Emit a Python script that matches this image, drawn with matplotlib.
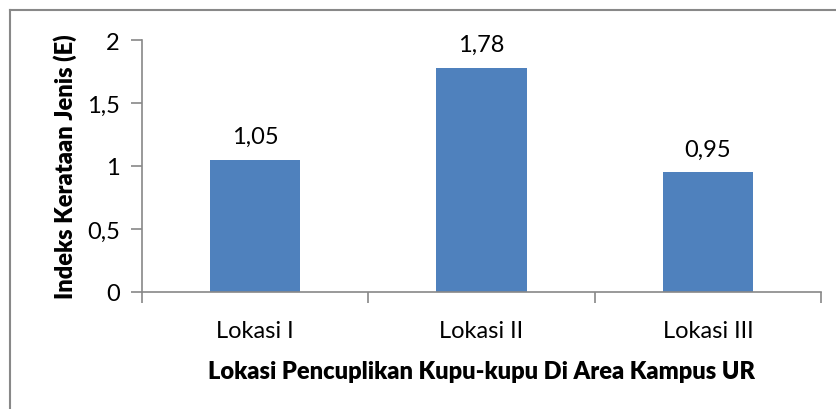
import numpy as np
import matplotlib.pyplot as plt
from matplotlib.lines import Line2D

locations = ["Lokasi I", "Lokasi II", "Lokasi III"]
evenness = [1.05, 1.78, 0.95]
y_ticks = [0, 0.5, 1, 1.5, 2]
y_tick_labels = ["0", "0,5", "1", "1,5", "2"]

W, H = 837, 410
plt.rcParams["font.family"] = ["Lato", "DejaVu Sans"]

fig = plt.figure(figsize=(W / 100, H / 100), dpi=100)
ax = fig.add_axes([142 / W, 1 - 293 / H, (821 - 142) / W, (293 - 41) / H])

x = np.arange(len(locations))
bars = ax.bar(x, evenness, width=0.4, color="#4F81BD", zorder=2)
for xi, v in zip(x, evenness):
    ax.text(xi, v + 0.1, f"{v:.2f}".replace(".", ","), ha="center",
            va="bottom", fontsize=17, color="black")

ax.set_xlim(-0.5, len(locations) - 0.5)
ax.set_ylim(0, 2)
ax.set_yticks(y_ticks)
ax.set_yticklabels(y_tick_labels, fontsize=17)
ax.set_xticks(x)
ax.set_xticklabels(locations, fontsize=17)
ax.set_xticks(np.arange(-0.5, len(locations)), minor=True)
ax.tick_params(axis="x", which="major", length=0, pad=20)
ax.tick_params(axis="x", which="minor", length=8, width=1.2, color="#888888")
ax.tick_params(axis="y", length=8, width=1.2, color="#888888", pad=8)

for s in ["top", "right"]:
    ax.spines[s].set_visible(False)
for s in ["left", "bottom"]:
    ax.spines[s].set_color("#888888")
    ax.spines[s].set_linewidth(1.2)

ax.set_ylabel("Indeks Kerataan Jenis (E)", fontsize=17, fontweight="heavy",
              labelpad=7)
ax.set_xlabel("Lokasi Pencuplikan Kupu-kupu Di Area Kampus UR", fontsize=17,
              fontweight="heavy", labelpad=14)

# chart frame (left and top edges visible)
fig.add_artist(Line2D([9.5 / W, 9.5 / W], [0, 1 - 11 / H], color="#888888",
                      lw=1.5, transform=fig.transFigure))
fig.add_artist(Line2D([9.5 / W, 1], [1 - 11 / H, 1 - 11 / H], color="#888888",
                      lw=1.5, transform=fig.transFigure))

fig.savefig("out.png", dpi=100)
